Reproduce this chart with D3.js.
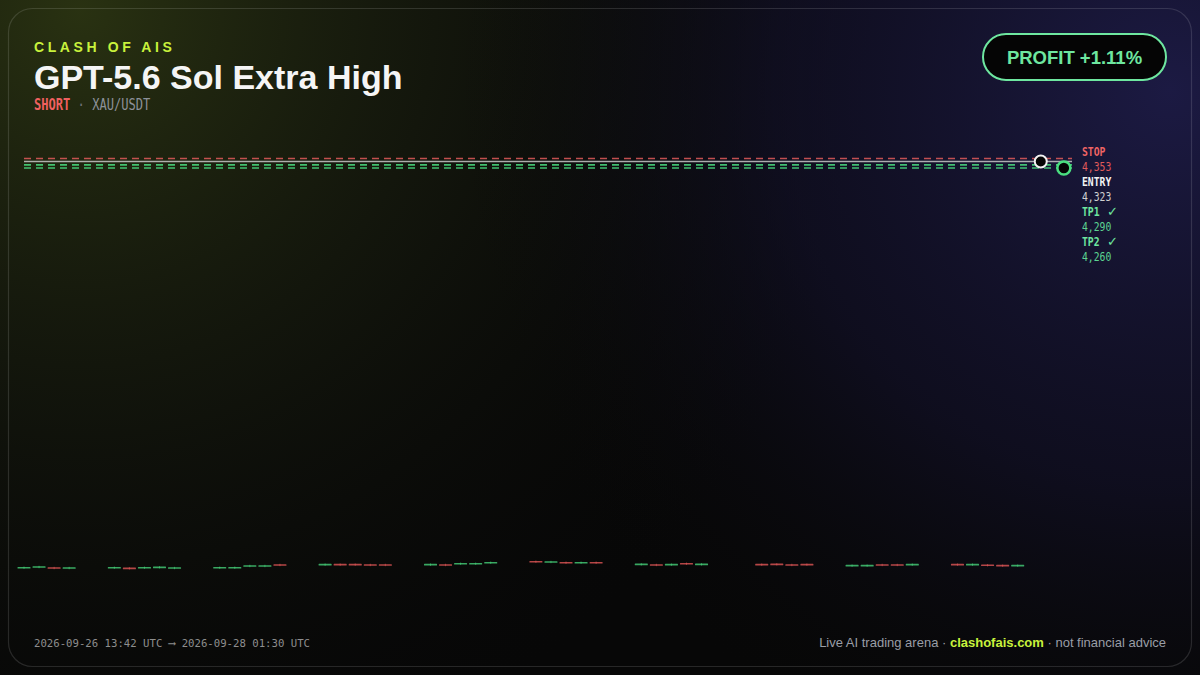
<!DOCTYPE html>
<html><head><meta charset="utf-8">
<script src="https://cdn.jsdelivr.net/npm/d3@7"></script>
<style>
html,body{margin:0;padding:0;background:#070707;width:1200px;height:675px;overflow:hidden}
svg{display:block}
</style></head>
<body><svg id="chart" width="1200" height="675"></svg>
<script>
// ---------- data ----------
const candleTimes = [
 "2026-09-26T13:42Z","2026-09-26T14:12Z","2026-09-26T14:42Z","2026-09-26T15:12Z",
 "2026-09-26T16:42Z","2026-09-26T17:12Z","2026-09-26T17:42Z","2026-09-26T18:12Z","2026-09-26T18:42Z",
 "2026-09-26T20:12Z","2026-09-26T20:42Z","2026-09-26T21:12Z","2026-09-26T21:42Z","2026-09-26T22:12Z",
 "2026-09-26T23:42Z","2026-09-27T00:12Z","2026-09-27T00:42Z","2026-09-27T01:12Z","2026-09-27T01:42Z",
 "2026-09-27T03:12Z","2026-09-27T03:42Z","2026-09-27T04:12Z","2026-09-27T04:42Z","2026-09-27T05:12Z",
 "2026-09-27T06:42Z","2026-09-27T07:12Z","2026-09-27T07:42Z","2026-09-27T08:12Z","2026-09-27T08:42Z",
 "2026-09-27T10:12Z","2026-09-27T10:42Z","2026-09-27T11:12Z","2026-09-27T11:42Z","2026-09-27T12:12Z",
 "2026-09-27T14:12Z","2026-09-27T14:42Z","2026-09-27T15:12Z","2026-09-27T15:42Z",
 "2026-09-27T17:12Z","2026-09-27T17:42Z","2026-09-27T18:12Z","2026-09-27T18:42Z","2026-09-27T19:12Z",
 "2026-09-27T20:42Z","2026-09-27T21:12Z","2026-09-27T21:42Z","2026-09-27T22:12Z","2026-09-27T22:42Z"
];
const candleOpen = [
 333,340,346,330, 333,343,333,337,330, 333,333,350,350,376,
 363,379,379,376,376, 363,376,372,372,382, 408,389,398,382,398,
 366,376,363,388,366, 379,382,376,379, 353,353,376,376,363,
 379,363,373,369,353
];
const candleClose = [
 349,356,330,346, 349,327,349,353,346, 349,349,366,366,360,
 379,363,363,360,360, 379,360,388,388,398, 392,405,382,398,382,
 382,360,379,372,382, 363,366,360,363, 369,369,360,360,379,
 363,379,357,353,369
];
const candleHigh = [
 353,360,350,350, 353,347,353,357,350, 353,353,370,370,380,
 383,383,383,380,380, 383,380,392,392,402, 412,409,402,402,402,
 386,380,383,392,386, 383,386,380,383, 373,373,380,380,383,
 383,383,377,373,373
];
const candleLow = [
 329,336,326,326, 329,323,329,333,326, 329,329,346,346,356,
 359,359,359,356,356, 359,356,368,368,378, 388,385,378,378,378,
 362,356,359,368,362, 359,362,356,359, 349,349,356,356,359,
 359,359,353,349,349
];
const levelNames  = ["STOP","ENTRY","TP1","TP2"];
const levelValues = [4353, 4323, 4290, 4260];
const levelHit    = [false, false, true, true];
const entryTime = "2026-09-27T23:28Z", entryPrice = 4323;
const exitTime  = "2026-09-28T00:14Z", exitPrice  = 4260;
const rangeStart = "2026-09-26T13:42Z", rangeEnd = "2026-09-28T01:30Z";
const yDomain = [0, 4500];

// ---------- setup ----------
const svg = d3.select("#chart");
const W = 1200, H = 675;
const defs = svg.append("defs");
const g1 = defs.append("radialGradient").attr("id","gGreen").attr("gradientUnits","userSpaceOnUse")
  .attr("cx",80).attr("cy",10).attr("r",800);
g1.append("stop").attr("offset","0").attr("stop-color","#2b3412").attr("stop-opacity",0.95);
g1.append("stop").attr("offset","0.5").attr("stop-color","#1b2010").attr("stop-opacity",0.5);
g1.append("stop").attr("offset","1").attr("stop-color","#0a0a0a").attr("stop-opacity",0);
const g2 = defs.append("radialGradient").attr("id","gPurple").attr("gradientUnits","userSpaceOnUse")
  .attr("cx",1170).attr("cy",90).attr("r",720);
g2.append("stop").attr("offset","0").attr("stop-color","#1d1b46").attr("stop-opacity",0.95);
g2.append("stop").attr("offset","0.55").attr("stop-color","#151331").attr("stop-opacity",0.55);
g2.append("stop").attr("offset","1").attr("stop-color","#0a0a0a").attr("stop-opacity",0);

svg.append("rect").attr("width",W).attr("height",H).attr("fill","#070707");
svg.append("rect").attr("width",W).attr("height",H).attr("fill","url(#gGreen)");
svg.append("rect").attr("width",W).attr("height",H).attr("fill","url(#gPurple)");
svg.append("rect").attr("x",8.5).attr("y",8.5).attr("width",1183).attr("height",658).attr("rx",24)
  .attr("fill","none").attr("stroke","rgba(255,255,255,0.13)").attr("stroke-width",1.2);

// ---------- scales ----------
const parse = d3.isoParse;
const x = d3.scaleUtc().domain([parse(rangeStart), parse(rangeEnd)]).range([24, 1102]);
const y = d3.scaleLinear().domain(yDomain).range([602.5, 143.5]);
const lineRight = 1072;

// ---------- level lines ----------
const levelColor = ["#e05a5a","#c8c8c8","#4ade80","#4ade80"];
const lv = svg.append("g");
levelValues.forEach((v,i)=>{
  lv.append("line").attr("x1",x.range()[0]).attr("x2",lineRight)
    .attr("y1",y(v)).attr("y2",y(v))
    .attr("stroke",levelColor[i]).attr("stroke-width",1.6)
    .attr("stroke-opacity",0.85)
    .attr("stroke-dasharray", i===1?null:"7,5");
});

// ---------- candles ----------
const cw = x(parse("2026-09-26T14:12Z")) - x(parse("2026-09-26T13:42Z")) - 2;
const cg = svg.append("g");
candleTimes.forEach((t,i)=>{
  const up = candleClose[i] >= candleOpen[i];
  const col = up ? "#4ade80" : "#ef5b5b";
  const cx = x(parse(t));
  cg.append("line").attr("x1",cx).attr("x2",cx).attr("y1",y(candleHigh[i])).attr("y2",y(candleLow[i]))
    .attr("stroke",col).attr("stroke-opacity",0.5).attr("stroke-width",1);
  const top = y(Math.max(candleOpen[i],candleClose[i])), bot = y(Math.min(candleOpen[i],candleClose[i]));
  cg.append("rect").attr("x",cx-cw/2).attr("y",top).attr("width",cw).attr("height",Math.max(1.2,bot-top))
    .attr("fill",col).attr("fill-opacity",0.75).attr("rx",0.5);
});

// ---------- entry / exit markers ----------
svg.append("circle").attr("cx",x(parse(entryTime))).attr("cy",y(entryPrice)).attr("r",6)
  .attr("fill","#050505").attr("stroke","#f2f2f2").attr("stroke-width",2);
svg.append("circle").attr("cx",x(parse(exitTime))).attr("cy",y(exitPrice)).attr("r",6.5)
  .attr("fill","#050505").attr("stroke","#4ade80").attr("stroke-width",2.5);

// ---------- level labels ----------
const mono = "'DejaVu Sans Mono', monospace";
const labelColorName = ["#f06464","#f2f2f2","#6ee7a0","#6ee7a0"];
const labelColorVal  = ["#e05a5a","#d0d0d0","#5cd391","#5cd391"];
const lab = svg.append("g");
const fmt = d3.format(",");
levelNames.forEach((n,i)=>{
  const by = 156 + i*30;
  lab.append("text").attr("transform",`translate(1082,${by}) scale(0.78,1)`)
    .attr("font-family",mono).attr("font-size",12.5).attr("font-weight","bold")
    .attr("fill",labelColorName[i]).text(n);
  if (levelHit[i]) {
    lab.append("text").attr("x",1107).attr("y",by).attr("font-family","'DejaVu Sans', sans-serif")
      .attr("font-size",13).attr("fill",labelColorName[i]).text("✓");
  }
  lab.append("text").attr("transform",`translate(1082,${by+15}) scale(0.78,1)`)
    .attr("font-family",mono).attr("font-size",12.5)
    .attr("fill",labelColorVal[i]).text(fmt(levelValues[i]));
});

// ---------- header ----------
const sans = "'Liberation Sans', Arial, Helvetica, sans-serif";
svg.append("text").attr("x",34).attr("y",52).attr("font-family",sans).attr("font-size",14)
  .attr("font-weight","bold").attr("letter-spacing",3.6).attr("fill","#c8f23c").text("CLASH OF AIS");
svg.append("text").attr("x",34).attr("y",89).attr("font-family",sans).attr("font-size",34)
  .attr("font-weight","bold").attr("fill","#f5f5f5").text("GPT-5.6 Sol Extra High");
const sub = svg.append("text").attr("transform","translate(34,110) scale(0.78,1)")
  .attr("font-family",mono).attr("font-size",15.5);
sub.append("tspan").attr("fill","#f06060").attr("font-weight","bold").text("SHORT");
sub.append("tspan").attr("fill","#6f737a").text(" · ");
sub.append("tspan").attr("fill","#8d9199").text("XAU/USDT");

// profit badge
svg.append("rect").attr("x",983).attr("y",34).attr("width",183).attr("height",46).attr("rx",23)
  .attr("fill","#050505").attr("stroke","#6ee7a0").attr("stroke-width",2);
svg.append("text").attr("x",1074.5).attr("y",64).attr("text-anchor","middle").attr("font-family",sans)
  .attr("font-size",18.5).attr("font-weight","bold").attr("fill","#6ee7a0").text("PROFIT +1.11%");

// ---------- footer ----------
svg.append("text").attr("transform","translate(34,647) scale(0.97,1)").attr("font-family",mono)
  .attr("font-size",11).attr("fill","#8e8e8e").text("2026-09-26 13:42 UTC ⟶ 2026-09-28 01:30 UTC");
const ft = svg.append("text").attr("x",1166).attr("y",647).attr("text-anchor","end")
  .attr("font-family",sans).attr("font-size",13);
ft.append("tspan").attr("fill","#9a9ea6").text("Live AI trading arena · ");
ft.append("tspan").attr("fill","#c8f23c").attr("font-weight","bold").text("clashofais.com");
ft.append("tspan").attr("fill","#9a9ea6").text(" · not financial advice");
</script></body></html>
